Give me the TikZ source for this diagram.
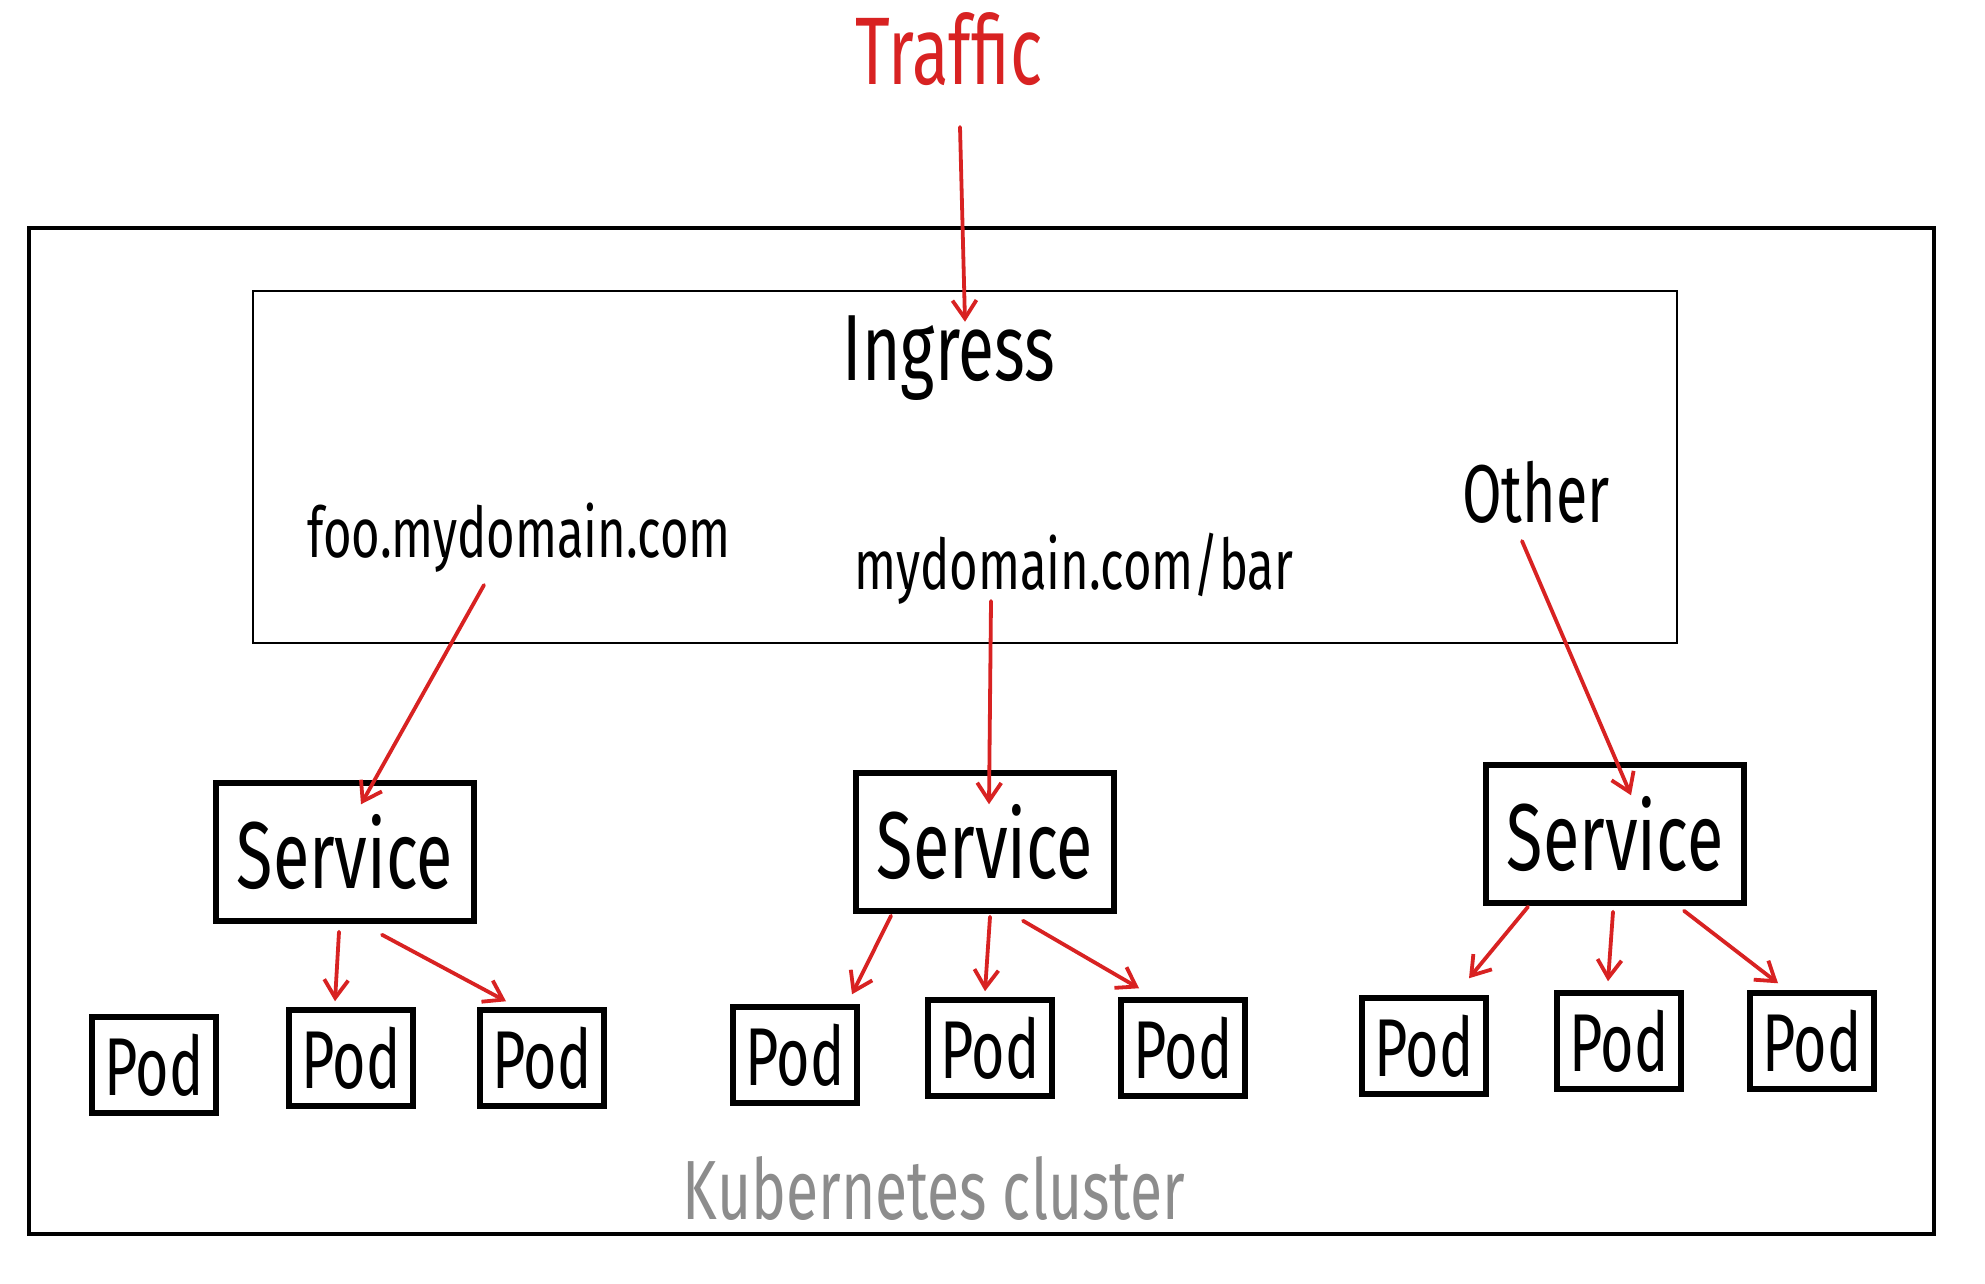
\documentclass[tikz,border=0pt]{standalone}
\usepackage{fontspec}
\usetikzlibrary{arrows.meta}
\newfontfamily\hand[FakeStretch=0.7]{Fira Sans}
\definecolor{tred}{HTML}{D82222}
\definecolor{kgray}{HTML}{8C8C8C}
\begin{document}
\begin{tikzpicture}[x=1pt,y=-1pt,
  arr/.style={draw=tred,line width=3.8pt,line cap=round,-{Straight Barb[length=18pt,width=24pt,line width=3.8pt]}},
  svc/.style={draw,line width=5.5pt,minimum width=258pt,minimum height=138pt,inner sep=0pt,font=\hand\fontsize{95}{100}\selectfont},
  pod/.style={draw,line width=5.5pt,minimum width=124pt,minimum height=96pt,inner sep=0pt,font=\hand\fontsize{82}{90}\selectfont},
  lbl/.style={inner sep=0pt,anchor=base}]
\useasboundingbox (0,0) rectangle (1985,1283);
\fill[white] (0,0) rectangle (1985,1283);
% containers
\node[draw,line width=4.5pt,minimum width=1905pt,minimum height=1006pt,inner sep=0pt] (cluster) at (981.5,731) {};
\node[draw,line width=2.5pt,minimum width=1424pt,minimum height=352pt,inner sep=0pt] (ingress) at (965,467) {};
% labels
\node[lbl,text=tred,font=\hand\fontsize{96}{100}\selectfont] (traffic) at (949,84) {Traffic};
\node[lbl,font=\hand\fontsize{94}{100}\selectfont] (ingtext) at (949,380) {Ingress};
\node[lbl,font=\hand\fontsize{70}{75}\selectfont] (foo) at (519,557) {foo.mydomain.com};
\node[lbl,font=\hand\fontsize{70}{75}\selectfont] (bar) at (1074,589) {mydomain.com/bar};
\node[lbl,font=\hand\fontsize{82}{86}\selectfont] (other) at (1536,522) {Other};
\node[lbl,text=kgray,font=\hand\fontsize{84}{88}\selectfont] (kube) at (934,1219) {Kubernetes cluster};
% services
\node[svc] (s1) at (345,852) {Service};
\node[svc] (s2) at (985,842) {Service};
\node[svc] (s3) at (1615,834) {Service};
% pods
\node[pod] (p1) at (154,1065) {Pod};
\node[pod] (p2) at (351,1058) {Pod};
\node[pod] (p3) at (542,1058) {Pod};
\node[pod] (p4) at (795,1055) {Pod};
\node[pod] (p5) at (990,1048) {Pod};
\node[pod] (p6) at (1183,1048) {Pod};
\node[pod] (p7) at (1424,1046) {Pod};
\node[pod] (p8) at (1619,1041) {Pod};
\node[pod] (p9) at (1812,1041) {Pod};
% arrows
\draw[arr] ([shift={(11,43)}]traffic.base) -- ([shift={(0,32)}]ingress.north);
\draw[arr] ([shift={(-35,28)}]foo.base) -- ([shift={(16,24)}]s1.north);
\draw[arr] ([shift={(-83,12)}]bar.base) -- ([shift={(4,34)}]s2.north);
\draw[arr] ([shift={(-14,19)}]other.base) -- ([shift={(16,33)}]s3.north);
\draw[arr] ([shift={(-6,8)}]s1.south) -- ([shift={(-16,-6)}]p2.north);
\draw[arr] ([shift={(37,11)}]s1.south) -- ([shift={(-36,-6)}]p3.north);
\draw[arr] ([shift={(-94,2)}]s2.south) -- ([shift={(57,-10)}]p4.north);
\draw[arr] ([shift={(5,3)}]s2.south) -- ([shift={(-5,-6)}]p5.north);
\draw[arr] ([shift={(38,7)}]s2.south) -- ([shift={(-44,-9)}]p6.north);
\draw[arr] ([shift={(-87,1)}]s3.south) -- ([shift={(45,-17)}]p7.north);
\draw[arr] ([shift={(-2,6)}]s3.south) -- ([shift={(-11,-9)}]p8.north);
\draw[arr] ([shift={(69,5)}]s3.south) -- ([shift={(-34,-7)}]p9.north);
\end{tikzpicture}
\end{document}
